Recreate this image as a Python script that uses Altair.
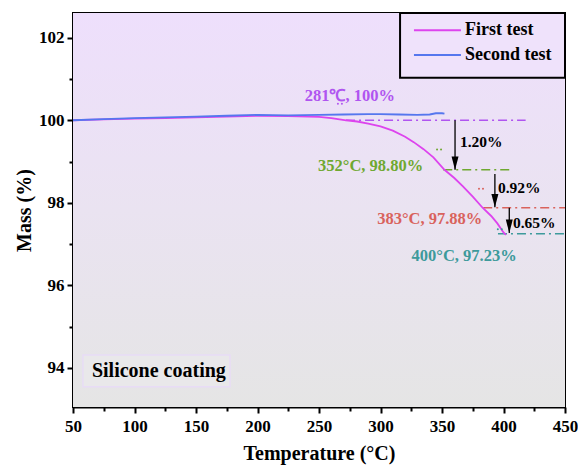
import altair as alt
import pandas as pd

# ---- data ----
first_T = [50, 75, 100, 125, 150, 175, 200, 225, 250, 260, 272, 281, 290, 300, 310, 320, 327, 335, 343, 352, 360, 367, 375, 383, 390, 395, 400, 402]
first_M = [100.0, 100.02, 100.04, 100.05, 100.07, 100.09, 100.11, 100.1, 100.08, 100.05, 100.0, 99.97, 99.92, 99.85, 99.75, 99.6, 99.47, 99.3, 99.1, 98.8, 98.6, 98.4, 98.15, 97.88, 97.68, 97.5, 97.28, 97.22]

second_T = [50, 75, 100, 125, 150, 175, 200, 225, 250, 270, 290, 300, 315, 330, 340, 345, 350, 352]
second_M = [100.0, 100.03, 100.05, 100.07, 100.09, 100.11, 100.13, 100.12, 100.13, 100.14, 100.15, 100.15, 100.14, 100.13, 100.14, 100.17, 100.17, 100.16]

series = ["First test", "Second test"]
line_colors = ["#DD44EE", "#5577EE"]

# legend placement (data coordinates)
legend_box_T = [315.9, 450]
legend_box_M = [101.03, 102.6]
legend_sym_T = [327.2, 365.4]
legend_row_M = [102.18, 101.58]
legend_text_T = 368.7

ref_levels = [100.0, 98.80, 97.88, 97.25]
ref_start = [272, 351, 383.5, 395.5]
ref_end = [418, 405, 450, 450]
ref_colors = ["#B055F0", "#6FA830", "#D9625C", "#3D9A9B"]

point_labels = ["281℃, 100%", "352°C, 98.80%", "383°C, 97.88%", "400°C, 97.23%"]
label_T = [275, 292, 340, 368]
label_M = [100.6, 98.88, 97.6, 96.72]

dot_T = [267, 347.6, 381.7, 397]
dot_M = [100.4, 99.29, 98.34, 97.36]

arrow_T = [360.6, 393, 404.7]
arrow_top = [100.0, 98.70, 97.88]
arrow_tip = [98.80, 97.89, 97.27]
arrow_text = ["1.20%", "0.92%", "0.65%"]
arrow_text_T = [364.6, 395.5, 407.7]
arrow_text_M = [99.48, 98.35, 97.5]

sample_name = "Silicone coating"
box_T = [58.1, 177.6]
box_M = [93.54, 94.31]
sample_T = 65.4
sample_M = 93.92

x_ticks = list(range(50, 451, 25))
y_ticks = list(range(94, 103, 1))

FONT = "Liberation Serif"

# ---- scales / axes ----
XS = alt.Scale(domain=[50, 450], nice=False, zero=False)
YS = alt.Scale(domain=[93.05, 102.6], nice=False, zero=False)
X_AX = alt.Axis(
    values=x_ticks,
    labelExpr="datum.value % 50 === 0 ? datum.label : ''",
    tickSize={"condition": {"test": "datum.value % 50 === 0", "value": 6}, "value": 4},
    title="Temperature (°C)",
    grid=False, labelFlush=False, labelOverlap=False,
    labelPadding=5, titlePadding=9,
)
Y_AX = alt.Axis(
    values=y_ticks,
    labelExpr="datum.value % 2 === 0 ? datum.label : ''",
    tickSize={"condition": {"test": "datum.value % 2 === 0", "value": 6}, "value": 4},
    title="Mass (%)",
    grid=False, labelFlush=False, labelOverlap=False,
    labelPadding=3, titlePadding=4,
)


def X(f):
    return alt.X(f, type="quantitative", scale=XS, axis=X_AX)


def Y(f):
    return alt.Y(f, type="quantitative", scale=YS, axis=Y_AX)


# ---- background gradient ----
bg_df = pd.DataFrame({"x": [50], "x2": [450], "y": [93.05], "y2": [102.6]})
bg = alt.Chart(bg_df).mark_rect(
    fill=alt.Gradient(
        gradient="linear",
        stops=[alt.GradientStop(color="#EEDFFC", offset=0),
               alt.GradientStop(color="#EAE3F1", offset=0.5),
               alt.GradientStop(color="#E5E5E5", offset=1)],
        x1=0, x2=0, y1=0, y2=1,
    ),
    strokeWidth=0,
).encode(x=X("x"), x2="x2", y=Y("y"), y2="y2")

# ---- curves ----
df_lines = pd.concat([
    pd.DataFrame({"T": first_T, "M": first_M, "series": series[0], "ord": range(len(first_T))}),
    pd.DataFrame({"T": second_T, "M": second_M, "series": series[1], "ord": range(len(second_T))}),
])
COLOR = alt.Color("series:N", scale=alt.Scale(domain=series, range=line_colors), legend=None)
lines = alt.Chart(df_lines).mark_line(strokeWidth=1.8, clip=True).encode(
    x=X("T"), y=Y("M"), order="ord:Q", color=COLOR, detail="series:N",
)

# ---- legend (drawn through the scales) ----
lg_box_df = pd.DataFrame({"x": [legend_box_T[0]], "x2": [legend_box_T[1]],
                          "y": [legend_box_M[0]], "y2": [legend_box_M[1]]})
lg_box = alt.Chart(lg_box_df).mark_rect(fill="#EFE2FB", stroke="black", strokeWidth=2).encode(
    x=X("x"), x2="x2", y=Y("y"), y2="y2"
)
lg_df = pd.DataFrame({"x": [legend_sym_T[0]] * 2, "x2": [legend_sym_T[1]] * 2,
                      "y": legend_row_M, "series": series, "tx": [legend_text_T] * 2})
lg_sym = alt.Chart(lg_df).mark_rule(strokeWidth=2).encode(
    x=X("x"), x2="x2", y=Y("y"), color=COLOR
)
lg_txt = alt.Chart(lg_df).mark_text(
    font=FONT, fontWeight="bold", fontSize=18, align="left", color="black"
).encode(x=X("tx"), y=Y("y"), text="series:N")

# ---- dash-dot reference levels ----
ref_df = pd.DataFrame({"x": ref_start, "x2": ref_end, "y": ref_levels, "c": ref_colors})
refs = alt.Chart(ref_df).mark_rule(strokeDash=[9, 4, 2, 4], strokeWidth=1.4, clip=True).encode(
    x=X("x"), x2="x2", y=Y("y"), color=alt.Color("c:N", scale=None)
)

# ---- colored labels ----
lab_df = pd.DataFrame({"x": label_T, "y": label_M, "t": point_labels, "c": ref_colors})
labels = alt.Chart(lab_df).mark_text(font=FONT, fontWeight="bold", fontSize=16.5).encode(
    x=X("x"), y=Y("y"), text="t:N", color=alt.Color("c:N", scale=None)
)

# small double-dot markers
dot_df = pd.DataFrame({"x": dot_T, "y": dot_M, "c": ref_colors})
dots_l = alt.Chart(dot_df).mark_circle(size=4, opacity=1).encode(
    x=X("x"), y=Y("y"), color=alt.Color("c:N", scale=None), xOffset=alt.value(-2)
)
dots_r = alt.Chart(dot_df).mark_circle(size=4, opacity=1).encode(
    x=X("x"), y=Y("y"), color=alt.Color("c:N", scale=None), xOffset=alt.value(2)
)

# ---- arrows ----
arr_df = pd.DataFrame({"x": arrow_T, "y": arrow_top, "y2": arrow_tip})
arrow_lines = alt.Chart(arr_df).mark_rule(color="black", strokeWidth=1.3).encode(
    x=X("x"), y=Y("y"), y2="y2"
)
arrow_heads = alt.Chart(arr_df).mark_point(
    shape="M-0.5,-1.9L0.5,-1.9L0,0Z", size=196, filled=True, fill="black",
    stroke="black", strokeWidth=0, opacity=1,
).encode(x=X("x"), y=Y("y2"))

at_df = pd.DataFrame({"x": arrow_text_T, "y": arrow_text_M, "t": arrow_text})
arrow_labels = alt.Chart(at_df).mark_text(
    font=FONT, fontWeight="bold", fontSize=15.5, align="left", color="black"
).encode(x=X("x"), y=Y("y"), text="t:N")

# ---- sample name box ----
box_df = pd.DataFrame({"x": [box_T[0]], "x2": [box_T[1]], "y": [box_M[0]], "y2": [box_M[1]]})
box = alt.Chart(box_df).mark_rect(fill="#E9E8EA", stroke="#E8DCF6", strokeWidth=1.5).encode(
    x=X("x"), x2="x2", y=Y("y"), y2="y2"
)
name_df = pd.DataFrame({"x": [sample_T], "y": [sample_M], "t": [sample_name]})
name = alt.Chart(name_df).mark_text(
    font=FONT, fontWeight="bold", fontSize=20, align="left", color="black"
).encode(x=X("x"), y=Y("y"), text="t:N")

chart = alt.layer(
    bg, box, name, refs, lines, labels, dots_l, dots_r, arrow_lines, arrow_heads, arrow_labels,
    lg_box, lg_sym, lg_txt,
).properties(
    width=492, height=394,
    autosize=alt.AutoSizeParams(type="none"),
    padding={"left": 73, "top": 13, "right": 13, "bottom": 59},
    background="white",
).configure_view(
    stroke="black", strokeWidth=2
).configure_axis(
    domainColor="black", domainWidth=2, tickColor="black", tickWidth=2,
    labelFont=FONT, labelFontWeight="bold", labelFontSize=17, labelColor="black",
    titleFont=FONT, titleFontWeight="bold", titleFontSize=20, titleColor="black",
)

chart.save("out.html", embed_options={"renderer": "svg", "actions": False})
